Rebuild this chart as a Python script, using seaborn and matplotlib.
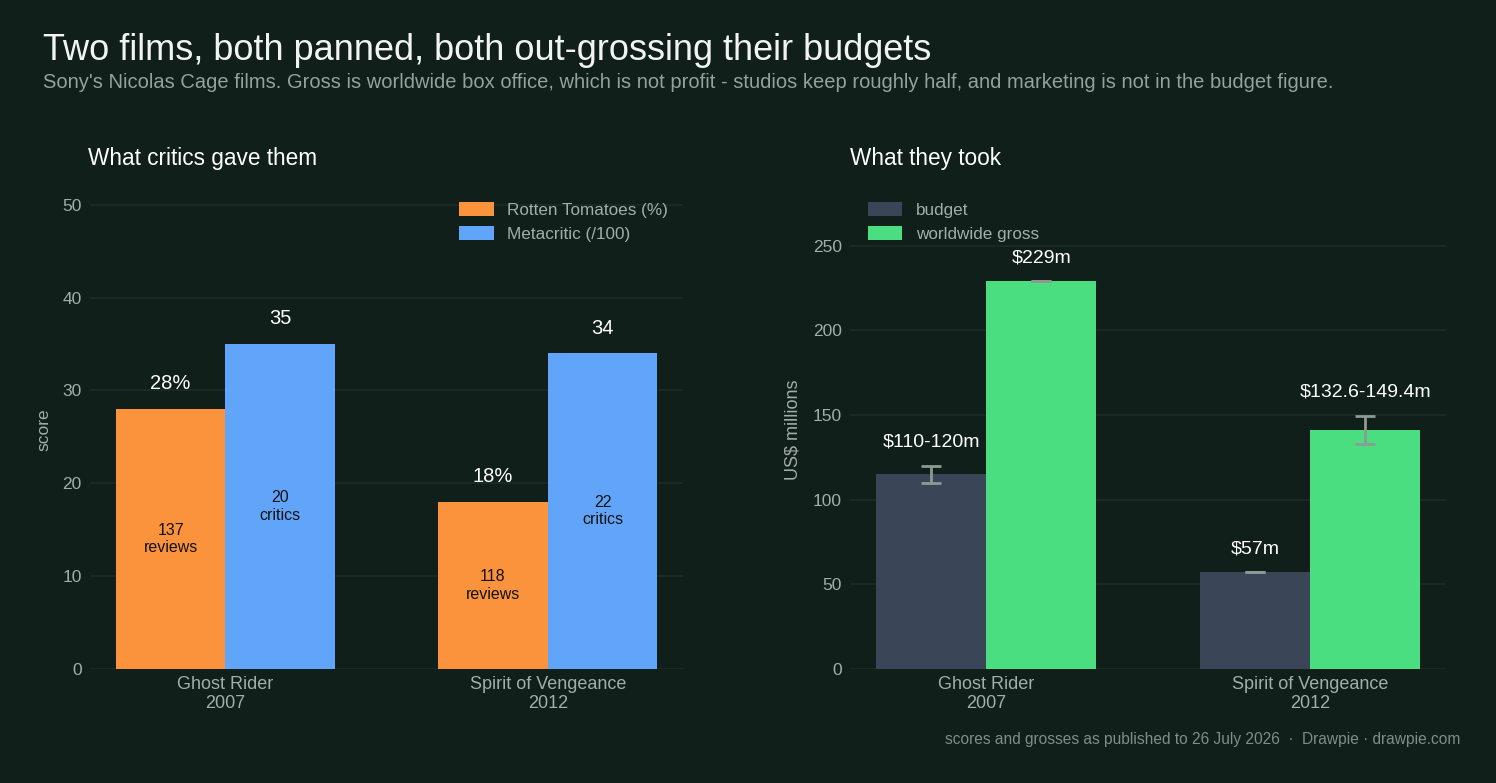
import matplotlib
matplotlib.use("Agg")
import matplotlib.pyplot as plt
import seaborn as sns
import pandas as pd

# Data
films = ["Ghost Rider\n2007", "Spirit of Vengeance\n2012"]
rt_scores = [28, 18]
mc_scores = [35, 34]
rt_reviews = [137, 118]
mc_critics = [20, 22]

budget_low = [110, 57]
budget_high = [120, 57]
gross_low = [229, 132.6]
gross_high = [229, 149.4]
budget_labels = ["$110-120m", "$57m"]
gross_labels = ["$229m", "$132.6-149.4m"]

# Colours
bg = "#101f1a"
grid_c = "#1d2c27"
tick_c = "#a3aea8"
orange = "#fb923c"
blue = "#60a5fa"
slate = "#3a4557"
green = "#4ade80"
err_c = "#8d9a93"

sns.set_theme(style="dark")
plt.rcParams["font.family"] = ["Liberation Sans", "DejaVu Sans"]

fig = plt.figure(figsize=(14.96, 7.83), dpi=100, facecolor=bg)
ax1 = fig.add_axes([0.0602, 0.1456, 0.3964, 0.612])
ax2 = fig.add_axes([0.5682, 0.1456, 0.3984, 0.612])

critics = pd.DataFrame({
    "film": films * 2,
    "score": rt_scores + mc_scores,
    "series": ["Rotten Tomatoes (%)"] * 2 + ["Metacritic (/100)"] * 2,
})
money = pd.DataFrame({
    "film": films * 2,
    "value": [(l + h) / 2 for l, h in zip(budget_low, budget_high)]
             + [(l + h) / 2 for l, h in zip(gross_low, gross_high)],
    "series": ["budget"] * 2 + ["worldwide gross"] * 2,
})

sns.barplot(data=critics, x="film", y="score", hue="series", ax=ax1,
            palette=[orange, blue], width=0.68, errorbar=None, saturation=1,
            linewidth=0, edgecolor="none")
sns.barplot(data=money, x="film", y="value", hue="series", ax=ax2,
            palette=[slate, green], width=0.68, errorbar=None, saturation=1,
            linewidth=0, edgecolor="none")

for ax in (ax1, ax2):
    ax.set_facecolor(bg)
    for s in ax.spines.values():
        s.set_visible(False)
    ax.grid(axis="y", color=grid_c, linewidth=1.2)
    ax.grid(axis="x", visible=False)
    ax.set_axisbelow(True)
    ax.tick_params(axis="y", colors=tick_c, labelsize=12.5, length=0, pad=6)
    ax.tick_params(axis="x", colors=tick_c, labelsize=13, length=0, pad=5)
    ax.set_xlim(-0.42, 1.42)
    ax.set_xlabel("")
    for lbl in ax.get_xticklabels():
        lbl.set_linespacing(1.15)

# Left: critics
ax1.set_ylim(0, 51.6)
ax1.set_yticks([0, 10, 20, 30, 40, 50])
ax1.set_ylabel("score", color=tick_c, fontsize=12.5, labelpad=8)
rt_bars = ax1.patches[:2]
mc_bars = ax1.patches[2:4]
for bar, v, n in zip(rt_bars, rt_scores, rt_reviews):
    cx = bar.get_x() + bar.get_width() / 2
    ax1.annotate(f"{v}%", (cx, v), xytext=(0, 18), textcoords="offset points",
                 ha="center", va="center", color="white", fontsize=14.5)
    ax1.text(cx, v / 2, f"{n}\nreviews", ha="center", va="center",
             color="#111111", fontsize=11.5, linespacing=1.2)
for bar, v, n in zip(mc_bars, mc_scores, mc_critics):
    cx = bar.get_x() + bar.get_width() / 2
    ax1.annotate(f"{v}", (cx, v), xytext=(0, 18), textcoords="offset points",
                 ha="center", va="center", color="white", fontsize=14.5)
    ax1.text(cx, v / 2, f"{n}\ncritics", ha="center", va="center",
             color="#111111", fontsize=11.5, linespacing=1.2)
leg1 = ax1.legend(loc="upper right", frameon=False, fontsize=12.3, labelcolor=tick_c,
                  handlelength=2.0, handleheight=0.9, handletextpad=0.8,
                  bbox_to_anchor=(0.995, 1.0), borderaxespad=0.3)
ax1.set_title("What critics gave them", loc="left", color="white", fontsize=16.3, pad=18, x=-0.003)

# Right: money
ax2.set_ylim(0, 283)
ax2.set_yticks([0, 50, 100, 150, 200, 250])
ax2.set_ylabel("US$ millions", color=tick_c, fontsize=13, labelpad=8)
b_bars = ax2.patches[:2]
g_bars = ax2.patches[2:4]
for bars, lows, highs, labels in ((b_bars, budget_low, budget_high, budget_labels),
                                  (g_bars, gross_low, gross_high, gross_labels)):
    for bar, lo, hi, lab in zip(bars, lows, highs, labels):
        cx = bar.get_x() + bar.get_width() / 2
        mid = (lo + hi) / 2
        ax2.errorbar(cx, mid, yerr=[[mid - lo], [hi - mid]], color=err_c,
                     capsize=7, elinewidth=2, capthick=2, fmt="none", zorder=5)
        ax2.annotate(lab, (cx, hi), xytext=(0, 17), textcoords="offset points",
                     ha="center", va="center", color="white", fontsize=14)
leg2 = ax2.legend(loc="upper left", frameon=False, fontsize=12.3, labelcolor=tick_c,
                  handlelength=2.0, handleheight=0.9, handletextpad=0.8,
                  bbox_to_anchor=(0.01, 1.0), borderaxespad=0.3)
ax2.set_title("What they took", loc="left", color="white", fontsize=16.3, pad=18, x=0.0)

fig.text(0.0287, 0.935, "Two films, both panned, both out-grossing their budgets",
         color="#f2f4f3", fontsize=26, ha="left", va="center")
fig.text(0.0287, 0.895, "Sony's Nicolas Cage films. Gross is worldwide box office, which is not profit - "
         "studios keep roughly half, and marketing is not in the budget figure.",
         color="#93a29a", fontsize=14.5, ha="left", va="center")
fig.text(0.976, 0.056, "scores and grosses as published to 26 July 2026  \u00b7  Drawpie \u00b7 drawpie.com",
         color="#7f8d86", fontsize=11.2, ha="right", va="center")

fig.savefig("out.png", dpi=100, facecolor=bg)
